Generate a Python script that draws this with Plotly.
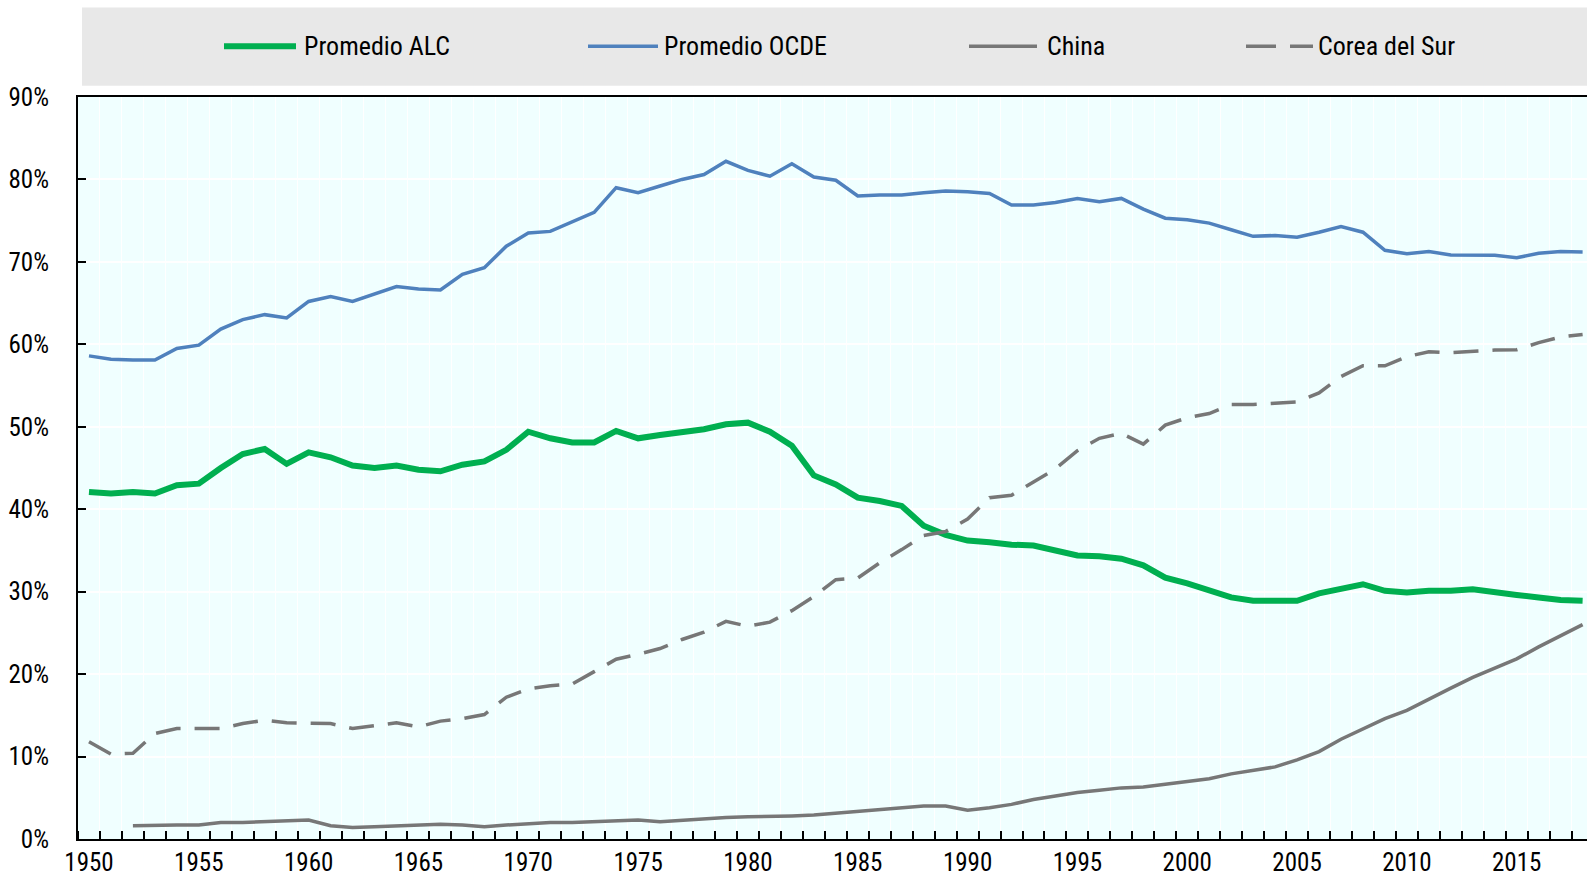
import plotly.graph_objects as go

years = list(range(1950, 2019))

alc = [42.1, 41.9, 42.1, 41.9, 42.9, 43.1, 45.0, 46.7, 47.3, 45.5,
       46.9, 46.3, 45.3, 45.0, 45.3, 44.8, 44.6, 45.4, 45.8, 47.2,
       49.4, 48.6, 48.1, 48.1, 49.5, 48.6, 49.0, 49.4, 49.7, 50.3,
       50.5, 49.4, 47.7, 44.1, 43.0, 41.4, 41.0, 40.4, 38.0, 36.9,
       36.2, 36.0, 35.7, 35.6, 35.0, 34.4, 34.3, 34.0, 33.2, 31.7,
       31.0, 30.2, 29.3, 28.9, 28.9, 28.9, 29.8, 30.3, 30.9, 30.1,
       29.9, 30.1, 30.1, 30.3, 29.9, 29.6, 29.3, 29.0, 28.9]

ocde = [58.6, 58.2, 58.1, 58.1, 59.5, 59.9, 61.85, 63.0, 63.6, 63.2,
        65.2, 65.8, 65.2, 66.1, 67.0, 66.7, 66.6, 68.5, 69.3, 71.9,
        73.5, 73.7, 74.9, 76.0, 79.0, 78.4, 79.2, 80.0, 80.6, 82.2,
        81.1, 80.4, 81.9, 80.3, 79.9, 78.0, 78.1, 78.1, 78.4, 78.6,
        78.5, 78.3, 76.9, 76.9, 77.2, 77.7, 77.3, 77.7, 76.4, 75.3,
        75.1, 74.7, 73.9, 73.1, 73.2, 73.0, 73.6, 74.3, 73.6, 71.4,
        71.0, 71.25, 70.85, 70.8, 70.8, 70.5, 71.05, 71.25, 71.2]

china = [None, None, 1.6, 1.7, 1.7, 1.7, 2.0, 2.0, 2.1, 2.3,
         2.3, 1.6, 1.4, 1.5, 1.6, 1.7, 1.8, 1.7, 1.5, 1.7,
         1.9, 2.0, 2.0, 2.1, 2.1, 2.3, 2.1, 2.3, 2.4, 2.6,
         2.7, 2.7, 2.8, 2.9, 3.1, 3.3, 3.5, 3.75, 4.0, 4.0,
         3.5, 3.8, 4.2, 4.8, 5.2, 5.65, 5.9, 6.2, 6.3, 6.6,
         6.9, 7.3, 7.9, 8.3, 8.75, 9.6, 10.6, 12.1, 13.4, 14.6,
         15.6, 17.0, 18.3, 19.6, 20.7, 21.85, 23.3, 24.7, 26.0]

corea = [11.8, 10.3, 10.4, 12.8, 13.4, 13.4, 13.4, 14.0, 14.4, 14.1,
         14.1, 14.0, 13.4, 13.7, 14.1, 13.6, 14.3, 14.6, 15.1, 17.2,
         18.2, 18.6, 18.8, 20.3, 21.8, 22.4, 23.1, 24.2, 25.1, 26.4,
         25.8, 26.3, 27.7, 29.4, 31.45, 31.65, 33.5, 35.1, 36.8, 37.3,
         38.8, 41.4, 41.7, 43.3, 44.9, 47.1, 48.6, 49.2, 47.9, 50.2,
         51.1, 51.6, 52.7, 52.7, 52.8, 53.0, 54.1, 56.1, 57.4, 57.4,
         58.5, 59.1, 59.0, 59.2, 59.3, 59.35, 60.2, 60.9, 61.2]

series_names = ["Promedio ALC", "Promedio OCDE", "China", "Corea del Sur"]
x_tick_vals = list(range(1950, 2016, 5))
x_tick_text = [str(v) for v in x_tick_vals]
y_tick_vals = list(range(0, 91, 10))
y_tick_text = [f"{v}%" for v in y_tick_vals]

GREEN = "#00AF50"
BLUE = "#4F81BD"
GRAY = "#777777"
FONT = "Liberation Sans Narrow, Arial Narrow, Roboto Condensed, sans-serif"

W, H = 1587, 877
ML, MR, MT, MB = 78, 0, 97, 36
PW, PH = W - ML - MR, H - MT - MB


def px_to_paper_x(px):
    return (px - ML) / PW


def px_to_paper_y(py):
    return (H - MB - py) / PH


styles = [
    dict(color=GREEN, width=6, dash="solid"),
    dict(color=BLUE, width=3.5, dash="solid"),
    dict(color=GRAY, width=3.5, dash="solid"),
    dict(color=GRAY, width=3.5, dash="25px,14px"),
]

fig = go.Figure()
for name, vals, st in zip(series_names, [alc, ocde, china, corea], styles):
    fig.add_trace(go.Scatter(x=years, y=vals, mode="lines", name=name,
                             line=st, connectgaps=False, showlegend=False))

# manual legend
shapes = [dict(type="rect", xref="paper", yref="paper",
               x0=px_to_paper_x(82), x1=1.0,
               y0=px_to_paper_y(85.7), y1=px_to_paper_y(7.3),
               fillcolor="#E8E8E8", line=dict(width=0), layer="below")]
legend_x = [(224, 296, 302), (588, 658, 662), (969, 1037, 1045), (1246, 1313, 1316)]
ly = px_to_paper_y(46)
annotations = []
for (x0, x1, tx), name, st in zip(legend_x, series_names, styles):
    shapes.append(dict(type="line", xref="paper", yref="paper",
                       x0=px_to_paper_x(x0), x1=px_to_paper_x(x1), y0=ly, y1=ly,
                       line=dict(color=st["color"], width=st["width"],
                                 dash="solid" if st["dash"] == "solid" else "30px,14px")))
    annotations.append(dict(xref="paper", yref="paper", x=px_to_paper_x(tx), y=ly,
                            text=name, showarrow=False, xanchor="left", yanchor="middle",
                            font=dict(family=FONT, size=26, color="#000000")))

fig.update_layout(
    width=W, height=H,
    margin=dict(l=ML, r=MR, t=MT, b=MB, pad=0),
    paper_bgcolor="white",
    plot_bgcolor="#F0FFFF",
    shapes=shapes,
    annotations=annotations,
    showlegend=False,
    font=dict(family=FONT, size=25, color="#000000"),
)
fig.update_xaxes(
    range=[1949.5, 2018.2],
    tickmode="array", tickvals=x_tick_vals, ticktext=x_tick_text,
    ticks="", showgrid=False, zeroline=False,
    showline=True, linecolor="black", linewidth=2, mirror=True,
    tickfont=dict(family=FONT, size=25, color="black"),
    minor=dict(tickmode="linear", tick0=1949.5, dtick=1, ticks="inside",
               ticklen=8, tickwidth=1.5, tickcolor="black",
               showgrid=True, gridcolor="white", gridwidth=1),
)
fig.update_yaxes(
    range=[0, 90],
    tickmode="array", tickvals=y_tick_vals, ticktext=y_tick_text,
    ticks="inside", ticklen=8, tickwidth=1.5, tickcolor="black",
    showgrid=True, gridcolor="white", gridwidth=1.5, zeroline=False,
    showline=True, linecolor="black", linewidth=2,
    ticklabelstandoff=22,
    tickfont=dict(family=FONT, size=25, color="black"),
)

fig.write_html(
    "out.html",
    config={"displayModeBar": False},
    post_script="document.body.style.margin='0';document.body.style.overflow='hidden';",
)
